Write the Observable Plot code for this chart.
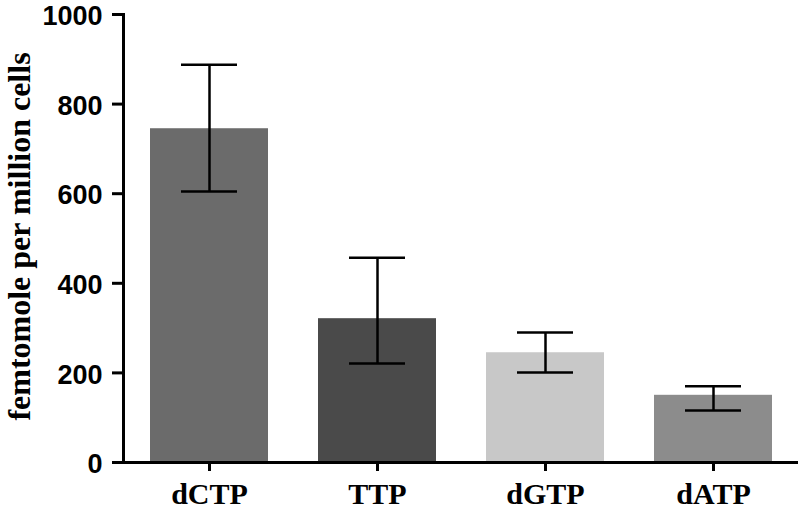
<!DOCTYPE html>
<html>
<head>
<meta charset="utf-8">
<script src="https://cdn.jsdelivr.net/npm/d3@7"></script>
<script src="https://cdn.jsdelivr.net/npm/@observablehq/plot@0.6"></script>
<style>
  html, body { margin: 0; padding: 0; background: #fff; }
  #chart svg { display: block; }
  #chart g[aria-label="y-axis tick label"] { font-size: 27px; font-weight: bold; font-family: 'Liberation Sans', Arial, Helvetica, sans-serif; }
  #chart g[aria-label="x-axis tick label"] { font-size: 30px; font-weight: bold; font-family: 'Liberation Serif', 'Times New Roman', Times, serif; }
</style>
</head>
<body>
<div id="chart"></div>
<script>
const categories = ["dCTP", "TTP", "dGTP", "dATP"];
const means = [745, 321, 245, 150];
const errUpper = [888, 457, 290, 170];
const errLower = [605, 221, 201, 116];
const barColors = ["#6b6b6b", "#4a4a4a", "#c8c8c8", "#8c8c8c"];
const yTicks = [0, 200, 400, 600, 800, 1000];
const yLabel = "femtomole per million cells";

const data = categories.map((c, i) => ({
  name: c, mean: means[i], hi: errUpper[i], lo: errLower[i]
}));

const sans = "'Liberation Sans', Arial, Helvetica, sans-serif";
const serif = "'Liberation Serif', 'Times New Roman', Times, serif";

const chart = Plot.plot({
  width: 800,
  height: 511,
  marginLeft: 123,
  marginRight: 2,
  marginTop: 14,
  marginBottom: 49,
  style: { background: "#fff", color: "#000" },
  x: { domain: categories, paddingInner: 0.3, paddingOuter: 0.155, label: null },
  y: { domain: [0, 1000], label: null },
  color: { domain: categories, range: barColors },
  marks: [
    Plot.barY(data, { x: "name", y: "mean", fill: "name" }),
    Plot.ruleX(data, { x: "name", y1: "lo", y2: "hi", stroke: "#000", strokeWidth: 2.5 }),
    Plot.tickY(data, { x: "name", y: "hi", stroke: "#000", strokeWidth: 2.5, insetLeft: 31, insetRight: 31 }),
    Plot.tickY(data, { x: "name", y: "lo", stroke: "#000", strokeWidth: 2.5, insetLeft: 31, insetRight: 31 }),
    Plot.frame({ anchor: "left", stroke: "#000", strokeWidth: 3 }),
    Plot.ruleY([0], { stroke: "#000", strokeWidth: 3 }),
    Plot.axisY({
      ticks: yTicks, tickFormat: () => "", tickSize: 11, strokeWidth: 3, label: null
    }),
    Plot.axisY({
      ticks: yTicks, tickFormat: d3.format("d"), tickSize: 0, tickPadding: 21, dy: 2,
      fontSize: 27, fontWeight: "bold", fontFamily: sans, fill: "#000", label: null
    }),
    Plot.axisX({
      tickSize: 9, tickPadding: 11, strokeWidth: 3,
      fontSize: 30, fontWeight: "bold", fontFamily: serif, fill: "#000", label: null
    }),
    Plot.text([yLabel], {
      text: d => d, frameAnchor: "left", rotate: -90, textAnchor: "middle",
      lineAnchor: "bottom", dx: -94, dy: -2,
      fontSize: 32, fontWeight: "bold", fontFamily: serif, fill: "#000"
    })
  ]
});
document.getElementById("chart").appendChild(chart);
</script>
</body>
</html>
